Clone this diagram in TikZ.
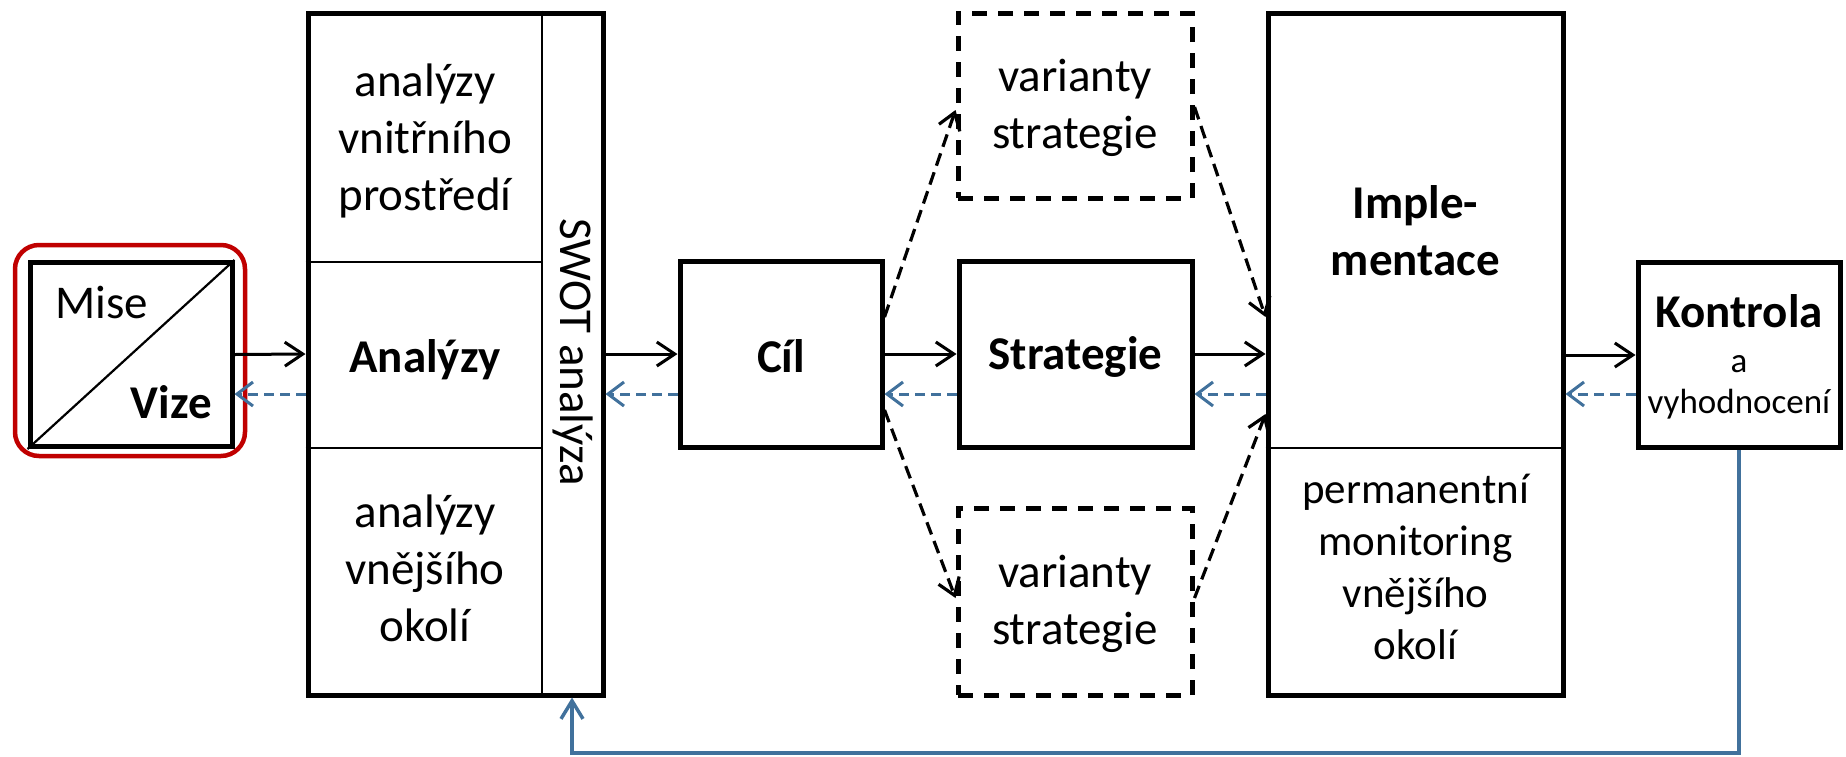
\documentclass[tikz,border=0pt]{standalone}
\usepackage{fontspec}
\setmainfont{Carlito}
\usetikzlibrary{arrows.meta,calc}
\definecolor{fbblue}{RGB}{65,113,156}
\definecolor{hlred}{RGB}{192,0,0}
\tikzset{
  blackbox/.style={draw, line width=5pt, inner sep=0pt},
  dashbox/.style={draw, line width=5pt, inner sep=0pt, dash pattern=on 15pt off 11pt},
  thinline/.style={line width=2.2pt},
  flow/.style={line width=3pt, -{Straight Barb[length=18pt,width=24pt]}},
  backflow/.style={draw=fbblue, line width=3pt, dash pattern=on 10pt off 6pt, -{Straight Barb[length=16pt,width=24pt]}},
  alt/.style={line width=3.2pt, dash pattern=on 13pt off 7pt, -{Straight Barb[length=16pt,width=22pt]}},
  fbline/.style={draw=fbblue, line width=3.5pt, -{Straight Barb[length=18pt,width=22pt]}},
  txt/.style={font=\fontsize{47}{57}\selectfont, inner sep=0pt, align=center},
  btxt/.style={font=\fontsize{47}{57}\selectfont\bfseries, inner sep=0pt, align=center},
  stxt/.style={font=\fontsize{43}{52}\selectfont, inner sep=0pt, align=center},
  smtxt/.style={font=\fontsize{35}{41}\selectfont, inner sep=0pt, align=center}
}
\begin{document}
\begin{tikzpicture}[x=1pt,y=-1pt]
\useasboundingbox (0,0) rectangle (1846,756);

% highlight and Mise/Vize
\node[draw=hlred, line width=4.5pt, rounded corners=24pt, minimum width=230pt, minimum height=211pt, inner sep=0pt] (hl) at (130,350.5) {};
\node[blackbox, minimum width=202pt, minimum height=184pt] (mv) at (131,354.5) {};
\draw[thinline] (mv.south west) -- (mv.north east);
\node[txt, anchor=base west] (mise) at (55,318) {Mise};
\node[btxt, anchor=base east] (vize) at (212,418) {Vize};

% analyses
\node[blackbox, minimum width=295pt, minimum height=682pt] (an) at (455.5,354) {};
\coordinate (swotx) at (542,0);
\coordinate (h1) at (0,262);
\coordinate (h2) at (0,448);
\draw[thinline] (an.north -| swotx) -- (an.south -| swotx);
\draw[thinline] (an.west |- h1) -- (swotx |- h1);
\draw[thinline] (an.west |- h2) -- (swotx |- h2);
\node[txt] (antop) at (425,141) {analýzy\\vnitřního\\prostředí};
\node[btxt, anchor=base] (anmid) at (425,372) {Analýzy};
\node[txt] (anbot) at (425,568) {analýzy\\vnějšího\\okolí};
\node[txt, rotate=-90] (swot) at (573,352) {SWOT analýza};

% goal, strategy, variants
\node[blackbox, minimum width=202pt, minimum height=186pt] (cil) at (781,354) {};
\node[btxt, anchor=base] (ciltxt) at (781,372) {Cíl};
\node[blackbox, minimum width=233pt, minimum height=186pt] (str) at (1075.5,354) {};
\node[btxt, anchor=base] (strtxt) at (1075.5,369) {Strategie};
\node[dashbox, minimum width=234pt, minimum height=185pt] (tv) at (1075,105.5) {};
\node[txt] (tvtxt) at (1075,108) {varianty\\strategie};
\node[dashbox, minimum width=234pt, minimum height=187pt] (bv) at (1075,601.5) {};
\node[txt] (bvtxt) at (1075,604) {varianty\\strategie};

% implementation
\node[blackbox, minimum width=295pt, minimum height=682pt] (imp) at (1415.5,354) {};
\draw[thinline] (imp.west |- h2) -- (imp.east |- h2);
\node[btxt] (imptxt) at (1415.5,231) {Imple-\\mentace};
\node[stxt] (impbot) at (1415.5,567) {permanentní\\monitoring\\vnějšího\\okolí};

% control
\node[blackbox, minimum width=202pt, minimum height=185pt] (ko) at (1739,355) {};
\node[btxt, anchor=base] (kotxt) at (1739,327) {Kontrola};
\node[smtxt, anchor=base] (katxt) at (1739,372) {a};
\node[smtxt, anchor=base] (kvtxt) at (1739,413) {vyhodnocení};

% forward flow
\draw[flow] (mv.east) -- (an.west);
\draw[flow] (an.east) -- (cil.west);
\draw[flow] (cil.east) -- (str.west);
\draw[flow] (str.east) -- (imp.west);
\draw[flow] ([yshift=-1pt]imp.east) -- ([yshift=-1pt]ko.west |- imp.east);

% backward flow
\draw[backflow] ([yshift=-40pt]an.west) -- ([yshift=-40pt]an.west -| mv.east);
\draw[backflow] ([yshift=-40pt]cil.west) -- ([yshift=-40pt]cil.west -| an.east);
\draw[backflow] ([yshift=-40pt]str.west) -- ([yshift=-40pt]str.west -| cil.east);
\draw[backflow] ([yshift=-40pt]imp.west) -- ([yshift=-40pt]imp.west -| str.east);
\draw[backflow] ([yshift=-40pt]ko.west |- imp.east) -- ([yshift=-40pt]imp.east);

% variant connectors
\draw[alt] ([yshift=37pt]cil.east) -- ([yshift=-4.5pt]tv.west);
\draw[alt] ([yshift=-1.5pt]tv.east) -- ([yshift=37pt]imp.west);
\draw[alt] ([yshift=-56pt]cil.east) -- ([yshift=3.5pt]bv.west);
\draw[alt] ([yshift=3.5pt]bv.east) -- ([yshift=-60pt]imp.west);

% feedback loop
\coordinate (swotc) at (572,0);
\coordinate (bl) at (0,753);
\draw[fbline] (ko.south) -- (ko.south |- bl) -- (swotc |- bl) -- (swotc |- an.south);
\end{tikzpicture}
\end{document}
